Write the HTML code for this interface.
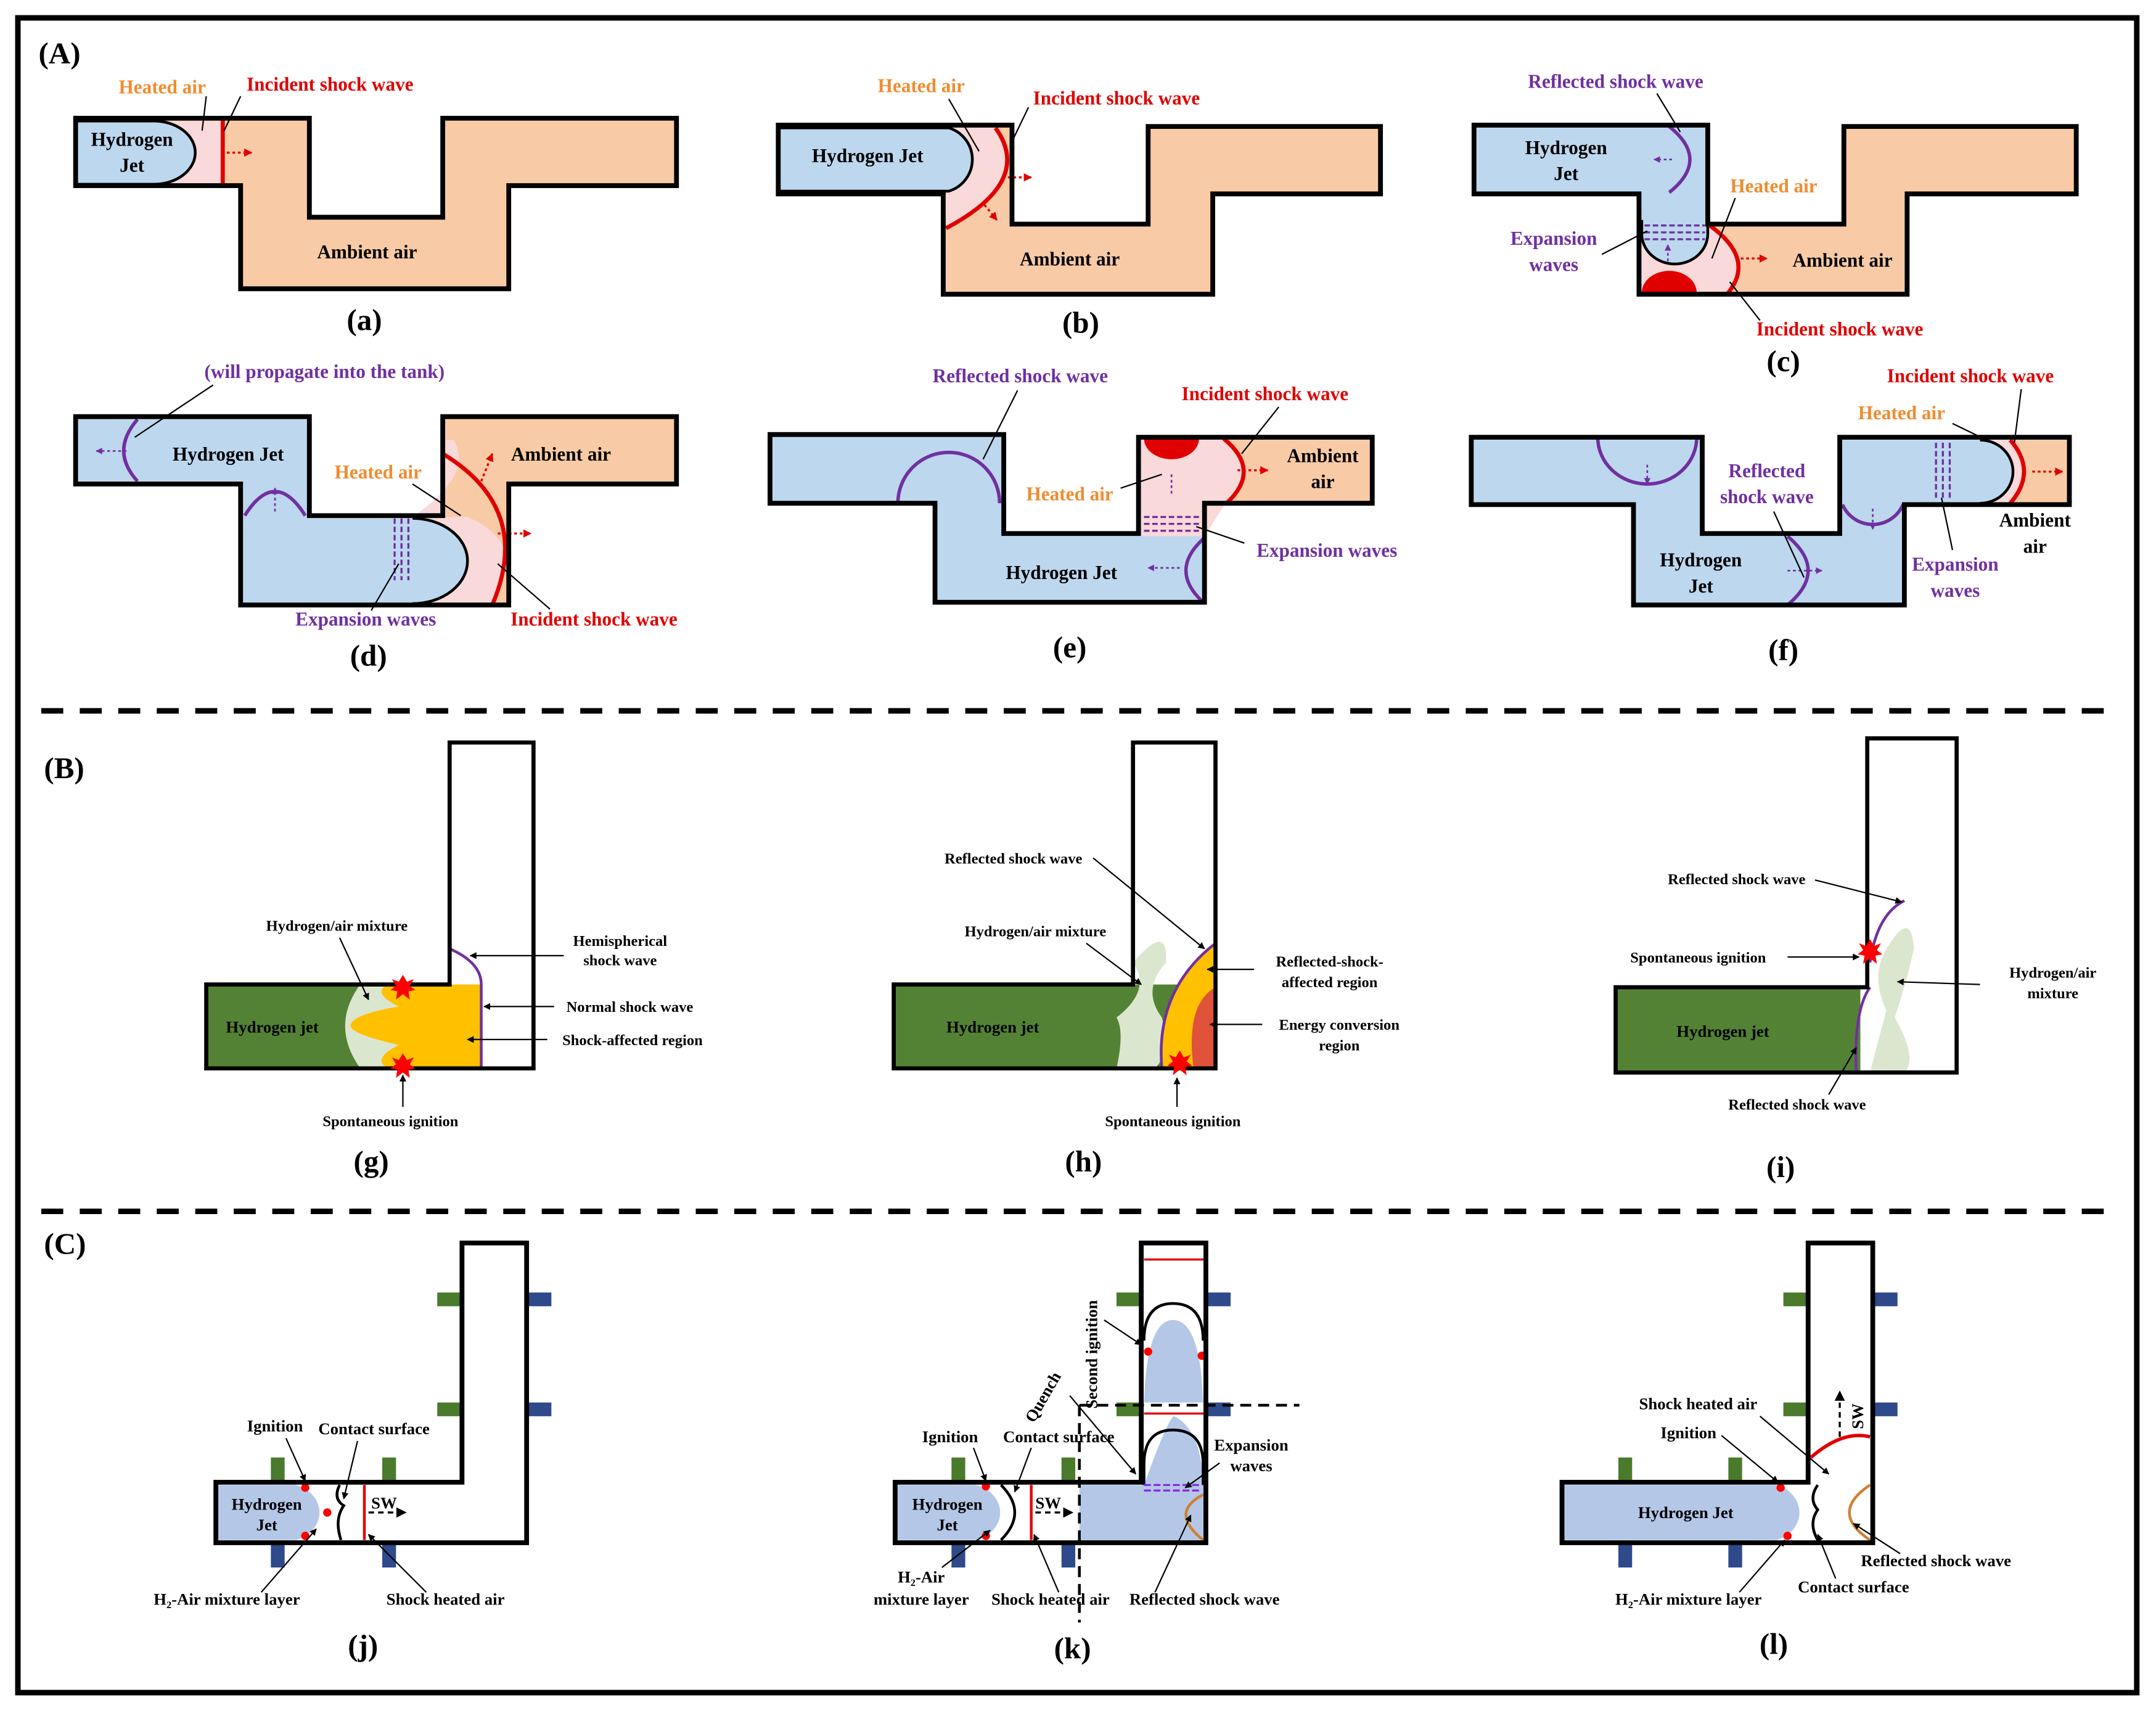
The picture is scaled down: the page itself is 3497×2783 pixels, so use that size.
<!DOCTYPE html>
<html><head><meta charset="utf-8"><style>
html,body{margin:0;padding:0;background:#fff;}
svg{display:block;}
text{font-family:"Liberation Serif",serif;font-weight:bold;}
</style></head><body>
<svg width="3497" height="2783" viewBox="0 0 1568 1248" preserveAspectRatio="none" xmlns="http://www.w3.org/2000/svg">
<defs>
<marker id="ah" viewBox="0 0 10 10" refX="9" refY="5" markerWidth="5" markerHeight="5" orient="auto"><path d="M0,0L10,5L0,10Z" fill="#000"/></marker>
<marker id="ar" viewBox="0 0 10 10" refX="9" refY="5" markerWidth="4" markerHeight="4" orient="auto"><path d="M0,0L10,5L0,10Z" fill="#e00000"/></marker>
<marker id="ap" viewBox="0 0 10 10" refX="9" refY="5" markerWidth="4" markerHeight="4" orient="auto"><path d="M0,0L10,5L0,10Z" fill="#7030a0"/></marker>
</defs>
<rect x="0" y="0" width="1568" height="1248" fill="#fff"/>
<rect x="13" y="13" width="1541" height="1218" fill="none" stroke="#000" stroke-width="4"/>
<line x1="30" y1="517" x2="1540" y2="517" stroke="#000" stroke-width="4" stroke-dasharray="16,12"/>
<line x1="30" y1="881" x2="1540" y2="881" stroke="#000" stroke-width="4" stroke-dasharray="16,12"/>
<text x="28" y="46" font-size="22">(A)</text>
<text x="32" y="566" font-size="22">(B)</text>
<text x="32" y="912" font-size="22">(C)</text>

<!-- (a) -->
<polygon points="55,86 225,86 225,158 322,158 322,86 492,86 492,135 370,135 370,210 175,210 175,135 55,135" fill="#f8cba6"/>
<rect x="110" y="88" width="52" height="46" fill="#f9d9d9"/>
<path d="M55,88 H112 A30,23 0 0 1 112,134 H55 Z" fill="#bdd7ee" stroke="#000" stroke-width="2"/>
<line x1="162" y1="87" x2="162" y2="134" stroke="#e00000" stroke-width="3"/>
<line x1="165" y1="111" x2="183" y2="111" stroke="#e00000" stroke-width="1.5" stroke-dasharray="2,2" marker-end="url(#ar)"/>
<polygon points="55,86 225,86 225,158 322,158 322,86 492,86 492,135 370,135 370,210 175,210 175,135 55,135" fill="none" stroke="#000" stroke-width="3.5"/>
<text x="96" y="106" font-size="14" text-anchor="middle">Hydrogen</text>
<text x="96" y="125" font-size="14" text-anchor="middle">Jet</text>
<text x="118" y="68" font-size="14" text-anchor="middle" fill="#f08c30">Heated air</text>
<text x="240" y="66" font-size="14" text-anchor="middle" fill="#e00000">Incident shock wave</text>
<line x1="150" y1="70" x2="147" y2="95" stroke="#000" stroke-width="1"/>
<line x1="175" y1="70" x2="163" y2="95" stroke="#000" stroke-width="1"/>
<text x="267" y="188" font-size="14" text-anchor="middle">Ambient air</text>
<text x="265" y="240" font-size="22" text-anchor="middle">(a)</text>

<!-- (b) -->
<polygon points="566,91 736,91 736,163 835,163 835,92 1004,92 1004,141 882,141 882,214 686,214 686,141 566,141" fill="#f8cba6"/>
<path d="M686,93 H726 Q750,130 688,166 Z" fill="#f9d9d9"/>
<path d="M566,93 H690 A24,24 0 0 1 690,139 H566 Z" fill="#bdd7ee" stroke="#000" stroke-width="2"/>
<path d="M724,93 Q752,132 688,166" fill="none" stroke="#e00000" stroke-width="3"/>
<line x1="733" y1="129" x2="750" y2="129" stroke="#e00000" stroke-width="1.5" stroke-dasharray="2,2" marker-end="url(#ar)"/>
<line x1="716" y1="149" x2="725" y2="160" stroke="#e00000" stroke-width="1.5" stroke-dasharray="2,2" marker-end="url(#ar)"/>
<polygon points="566,91 736,91 736,163 835,163 835,92 1004,92 1004,141 882,141 882,214 686,214 686,141 566,141" fill="none" stroke="#000" stroke-width="3.5"/>
<text x="631" y="118" font-size="14" text-anchor="middle">Hydrogen Jet</text>
<text x="670" y="67" font-size="14" text-anchor="middle" fill="#f08c30">Heated air</text>
<line x1="690" y1="72" x2="712" y2="110" stroke="#000" stroke-width="1"/>
<text x="812" y="76" font-size="14" text-anchor="middle" fill="#e00000">Incident shock wave</text>
<line x1="748" y1="78" x2="735" y2="105" stroke="#000" stroke-width="1"/>
<text x="778" y="193" font-size="14" text-anchor="middle">Ambient air</text>
<text x="786" y="242" font-size="22" text-anchor="middle">(b)</text>

<!-- (c) -->
<polygon points="1072,91 1242,91 1242,163 1341,163 1341,92 1510,92 1510,141 1387,141 1387,214 1192,214 1192,141 1072,141" fill="#f8cba6"/>
<polygon points="1072,91 1242,91 1242,214 1192,214 1192,141 1072,141" fill="#bdd7ee"/>
<path d="M1194,160 H1242 Q1276,188 1256,213 H1194 Z" fill="#f9d9d9"/>
<path d="M1194,141 V170 A24,22 0 0 0 1242,170 V141 Z" fill="#bdd7ee"/>
<path d="M1194,160 V170 A24,22 0 0 0 1242,170 V160" fill="none" stroke="#000" stroke-width="2"/>
<path d="M1242,163 Q1278,188 1256,214" fill="none" stroke="#e00000" stroke-width="3"/>
<path d="M1194,213 A20,16 0 0 1 1234,213 Z" fill="#e00000"/>
<path d="M1214,92 Q1244,116 1214,140" fill="none" stroke="#7030a0" stroke-width="2.5"/>
<line x1="1216" y1="116" x2="1203" y2="116" stroke="#7030a0" stroke-width="1.2" stroke-dasharray="2,2" marker-end="url(#ap)"/>
<g stroke="#7030a0" stroke-width="1.5" stroke-dasharray="4,2"><line x1="1196" y1="164" x2="1240" y2="164"/><line x1="1196" y1="169" x2="1240" y2="169"/><line x1="1196" y1="174" x2="1240" y2="174"/></g>
<line x1="1213" y1="190" x2="1213" y2="178" stroke="#7030a0" stroke-width="1.2" stroke-dasharray="2,2" marker-end="url(#ap)"/>
<line x1="1266" y1="188" x2="1285" y2="188" stroke="#e00000" stroke-width="1.5" stroke-dasharray="2,2" marker-end="url(#ar)"/>
<polygon points="1072,91 1242,91 1242,163 1341,163 1341,92 1510,92 1510,141 1387,141 1387,214 1192,214 1192,141 1072,141" fill="none" stroke="#000" stroke-width="3.5"/>
<text x="1175" y="64" font-size="14" text-anchor="middle" fill="#7030a0">Reflected shock wave</text>
<line x1="1205" y1="68" x2="1222" y2="96" stroke="#000" stroke-width="1"/>
<text x="1139" y="112" font-size="14" text-anchor="middle">Hydrogen</text>
<text x="1139" y="131" font-size="14" text-anchor="middle">Jet</text>
<text x="1290" y="140" font-size="14" text-anchor="middle" fill="#f08c30">Heated air</text>
<line x1="1262" y1="144" x2="1245" y2="188" stroke="#000" stroke-width="1"/>
<text x="1130" y="178" font-size="14" text-anchor="middle" fill="#7030a0">Expansion</text>
<text x="1130" y="197" font-size="14" text-anchor="middle" fill="#7030a0">waves</text>
<line x1="1165" y1="185" x2="1198" y2="168" stroke="#000" stroke-width="1"/>
<text x="1340" y="194" font-size="14" text-anchor="middle">Ambient air</text>
<text x="1338" y="244" font-size="14" text-anchor="middle" fill="#e00000">Incident shock wave</text>
<line x1="1280" y1="233" x2="1258" y2="205" stroke="#000" stroke-width="1"/>
<text x="1297" y="270" font-size="22" text-anchor="middle">(c)</text>

<!-- (d) -->
<polygon points="55,303 225,303 225,375 322,375 322,303 492,303 492,352 370,352 370,440 175,440 175,352 55,352" fill="#f8cba6"/>
<polygon points="55,303 225,303 225,375 300,375 300,440 175,440 175,352 55,352" fill="#f9d9d9"/>
<path d="M300,376 Q345,345 330,320 L322,320 L322,376 Z M296,376 H340 Q385,395 358,439 H296 Z" fill="#f9d9d9"/>
<path d="M322,330 Q388,370 358,440" fill="none" stroke="#e00000" stroke-width="3"/>
<path d="M55,305 H225 V377 H300 A40,31 0 0 1 300,439 H177 V350 H55 Z" fill="#bdd7ee"/>
<path d="M300,377 A40,31 0 0 1 300,439" fill="none" stroke="#000" stroke-width="2"/>
<path d="M100,305 Q80,328 100,350" fill="none" stroke="#7030a0" stroke-width="2.5"/>
<line x1="92" y1="328" x2="70" y2="328" stroke="#7030a0" stroke-width="1.2" stroke-dasharray="2,2" marker-end="url(#ap)"/>
<path d="M178,375 Q200,340 222,375" fill="none" stroke="#7030a0" stroke-width="2.5"/>
<line x1="200" y1="372" x2="200" y2="355" stroke="#7030a0" stroke-width="1.2" stroke-dasharray="2,2" marker-end="url(#ap)"/>
<g stroke="#7030a0" stroke-width="1.5" stroke-dasharray="4,2"><line x1="287" y1="377" x2="287" y2="422"/><line x1="292" y1="377" x2="292" y2="422"/><line x1="297" y1="377" x2="297" y2="422"/></g>
<line x1="350" y1="350" x2="358" y2="330" stroke="#e00000" stroke-width="1.5" stroke-dasharray="2,2" marker-end="url(#ar)"/>
<line x1="362" y1="388" x2="386" y2="388" stroke="#e00000" stroke-width="1.5" stroke-dasharray="2,2" marker-end="url(#ar)"/>
<polygon points="55,303 225,303 225,375 322,375 322,303 492,303 492,352 370,352 370,440 175,440 175,352 55,352" fill="none" stroke="#000" stroke-width="3.5"/>
<text x="236" y="275" font-size="14" text-anchor="middle" fill="#7030a0">(will propagate into the tank)</text>
<line x1="155" y1="280" x2="98" y2="318" stroke="#000" stroke-width="1"/>
<text x="166" y="335" font-size="14" text-anchor="middle">Hydrogen Jet</text>
<text x="275" y="348" font-size="14" text-anchor="middle" fill="#f08c30">Heated air</text>
<line x1="300" y1="352" x2="335" y2="375" stroke="#000" stroke-width="1"/>
<text x="408" y="335" font-size="14" text-anchor="middle">Ambient air</text>
<text x="266" y="455" font-size="14" text-anchor="middle" fill="#7030a0">Expansion waves</text>
<line x1="270" y1="444" x2="290" y2="410" stroke="#000" stroke-width="1"/>
<text x="432" y="455" font-size="14" text-anchor="middle" fill="#e00000">Incident shock wave</text>
<line x1="400" y1="443" x2="362" y2="410" stroke="#000" stroke-width="1"/>
<text x="268" y="484" font-size="22" text-anchor="middle">(d)</text>

<!-- (e) -->
<polygon points="560,316 730,316 730,388 828,388 828,318 998,318 998,366 876,366 876,438 680,438 680,366 560,366" fill="#bdd7ee"/>
<polygon points="880,318 998,318 998,366 880,366" fill="#f8cba6"/>
<path d="M830,318 H890 Q918,342 890,368 L876,390 H830 Z" fill="#f9d9d9"/>
<path d="M890,319 Q918,342 892,366" fill="none" stroke="#e00000" stroke-width="3"/>
<path d="M832,319 A20,15 0 0 0 872,319 Z" fill="#e00000"/>
<line x1="852" y1="345" x2="852" y2="360" stroke="#7030a0" stroke-width="1.2" stroke-dasharray="2,2"/>
<g stroke="#7030a0" stroke-width="1.5" stroke-dasharray="4,2"><line x1="832" y1="376" x2="874" y2="376"/><line x1="832" y1="381" x2="874" y2="381"/><line x1="832" y1="386" x2="874" y2="386"/></g>
<line x1="900" y1="342" x2="922" y2="342" stroke="#e00000" stroke-width="1.5" stroke-dasharray="2,2" marker-end="url(#ar)"/>
<path d="M653,366 A37,37 0 0 1 727,366" fill="none" stroke="#7030a0" stroke-width="2.5"/>
<path d="M875,392 Q850,415 875,438" fill="none" stroke="#7030a0" stroke-width="2.5"/>
<line x1="858" y1="413" x2="835" y2="413" stroke="#7030a0" stroke-width="1.2" stroke-dasharray="2,2" marker-end="url(#ap)"/>
<polygon points="560,316 730,316 730,388 828,388 828,318 998,318 998,366 876,366 876,438 680,438 680,366 560,366" fill="none" stroke="#000" stroke-width="3.5"/>
<text x="742" y="278" font-size="14" text-anchor="middle" fill="#7030a0">Reflected shock wave</text>
<line x1="740" y1="284" x2="715" y2="334" stroke="#000" stroke-width="1"/>
<text x="920" y="291" font-size="14" text-anchor="middle" fill="#e00000">Incident shock wave</text>
<line x1="930" y1="296" x2="903" y2="330" stroke="#000" stroke-width="1"/>
<text x="962" y="336" font-size="14" text-anchor="middle">Ambient</text>
<text x="962" y="355" font-size="14" text-anchor="middle">air</text>
<text x="778" y="364" font-size="14" text-anchor="middle" fill="#f08c30">Heated air</text>
<line x1="815" y1="355" x2="845" y2="345" stroke="#000" stroke-width="1"/>
<text x="965" y="405" font-size="14" text-anchor="middle" fill="#7030a0">Expansion waves</text>
<line x1="905" y1="395" x2="870" y2="383" stroke="#000" stroke-width="1"/>
<text x="772" y="421" font-size="14" text-anchor="middle">Hydrogen Jet</text>
<text x="778" y="478" font-size="22" text-anchor="middle">(e)</text>

<!-- (f) -->
<polygon points="1070,318 1238,318 1238,388 1338,388 1338,318 1505,318 1505,367 1385,367 1385,440 1188,440 1188,367 1070,367" fill="#bdd7ee"/>
<polygon points="1462,320 1505,320 1505,366 1462,366" fill="#f8cba6"/>
<path d="M1420,320 H1462 Q1482,343 1462,366 H1420 Z" fill="#f9d9d9"/>
<path d="M1340,320 H1440 A24,23 0 0 1 1440,366 H1340 Z" fill="#bdd7ee"/>
<path d="M1440,320 A24,23 0 0 1 1440,366" fill="none" stroke="#000" stroke-width="2"/>
<path d="M1462,320 Q1482,343 1462,366" fill="none" stroke="#e00000" stroke-width="3"/>
<line x1="1478" y1="343" x2="1500" y2="343" stroke="#e00000" stroke-width="1.5" stroke-dasharray="2,2" marker-end="url(#ar)"/>
<g stroke="#7030a0" stroke-width="1.5" stroke-dasharray="4,2"><line x1="1408" y1="322" x2="1408" y2="364"/><line x1="1413" y1="322" x2="1413" y2="364"/><line x1="1418" y1="322" x2="1418" y2="364"/></g>
<path d="M1162,318 A36,34 0 0 0 1234,318" fill="none" stroke="#7030a0" stroke-width="2.5"/>
<line x1="1198" y1="338" x2="1198" y2="352" stroke="#7030a0" stroke-width="1.2" stroke-dasharray="2,2" marker-end="url(#ap)"/>
<path d="M1340,367 A24,24 0 0 0 1384,367" fill="none" stroke="#7030a0" stroke-width="2.5"/>
<line x1="1362" y1="370" x2="1362" y2="385" stroke="#7030a0" stroke-width="1.2" stroke-dasharray="2,2" marker-end="url(#ap)"/>
<path d="M1300,390 Q1330,415 1300,440" fill="none" stroke="#7030a0" stroke-width="2.5"/>
<line x1="1300" y1="415" x2="1325" y2="415" stroke="#7030a0" stroke-width="1.2" stroke-dasharray="2,2" marker-end="url(#ap)"/>
<polygon points="1070,318 1238,318 1238,388 1338,388 1338,318 1505,318 1505,367 1385,367 1385,440 1188,440 1188,367 1070,367" fill="none" stroke="#000" stroke-width="3.5"/>
<text x="1433" y="278" font-size="14" text-anchor="middle" fill="#e00000">Incident shock wave</text>
<line x1="1470" y1="283" x2="1465" y2="322" stroke="#000" stroke-width="1"/>
<text x="1383" y="305" font-size="14" text-anchor="middle" fill="#f08c30">Heated air</text>
<line x1="1420" y1="308" x2="1455" y2="325" stroke="#000" stroke-width="1"/>
<text x="1285" y="347" font-size="14" text-anchor="middle" fill="#7030a0">Reflected</text>
<text x="1285" y="366" font-size="14" text-anchor="middle" fill="#7030a0">shock wave</text>
<line x1="1290" y1="372" x2="1312" y2="420" stroke="#000" stroke-width="1"/>
<text x="1480" y="383" font-size="14" text-anchor="middle">Ambient</text>
<text x="1480" y="402" font-size="14" text-anchor="middle">air</text>
<text x="1422" y="415" font-size="14" text-anchor="middle" fill="#7030a0">Expansion</text>
<text x="1422" y="434" font-size="14" text-anchor="middle" fill="#7030a0">waves</text>
<line x1="1420" y1="400" x2="1412" y2="362" stroke="#000" stroke-width="1"/>
<text x="1237" y="412" font-size="14" text-anchor="middle">Hydrogen</text>
<text x="1237" y="431" font-size="14" text-anchor="middle">Jet</text>
<text x="1297" y="480" font-size="22" text-anchor="middle">(f)</text>

<!-- (g) -->
<rect x="150" y="716" width="200" height="61" fill="#548235"/>
<path d="M262,716 H350 V777 H262 Q240,746 262,716 Z" fill="#dbe6cf"/>
<path d="M282,716 H350 V777 H282 Q270,770 290,760 Q255,752 255,746 Q255,738 290,732 Q270,722 282,716 Z" fill="#ffc000"/>
<path d="M327,690 Q350,700 350,716 V777" fill="none" stroke="#7030a0" stroke-width="2"/>
<polygon points="150,716 327,716 327,540 388,540 388,777 150,777" fill="none" stroke="#000" stroke-width="3"/>
<g fill="#ff0000"><polygon points="293,709 296,714 301,712 298,717 302,720 297,721 298,727 293,723 288,727 289,721 284,720 288,717 285,712 290,714"/><polygon points="293,766 296,771 301,769 298,774 302,777 297,778 298,784 293,780 288,784 289,778 284,777 288,774 285,769 290,771"/></g>
<text x="198" y="751" font-size="12" text-anchor="middle">Hydrogen jet</text>
<text x="245" y="677" font-size="11" text-anchor="middle">Hydrogen/air mixture</text>
<line x1="247" y1="682" x2="268" y2="727" stroke="#000" stroke-width="1" marker-end="url(#ah)"/>
<text x="451" y="688" font-size="11" text-anchor="middle">Hemispherical</text>
<text x="451" y="702" font-size="11" text-anchor="middle">shock wave</text>
<line x1="410" y1="695" x2="342" y2="695" stroke="#000" stroke-width="1" marker-end="url(#ah)"/>
<text x="458" y="736" font-size="11" text-anchor="middle">Normal shock wave</text>
<line x1="403" y1="732" x2="352" y2="732" stroke="#000" stroke-width="1" marker-end="url(#ah)"/>
<text x="460" y="760" font-size="11" text-anchor="middle">Shock-affected region</text>
<line x1="398" y1="756" x2="340" y2="756" stroke="#000" stroke-width="1" marker-end="url(#ah)"/>
<line x1="293" y1="805" x2="293" y2="782" stroke="#000" stroke-width="1" marker-end="url(#ah)"/>
<text x="284" y="819" font-size="11" text-anchor="middle">Spontaneous ignition</text>
<text x="270" y="852" font-size="22" text-anchor="middle">(g)</text>

<!-- (h) -->
<rect x="650" y="716" width="234" height="61" fill="#548235"/>
<path d="M824,700 Q850,670 848,700 Q830,720 845,740 Q852,765 840,777 H812 Q818,750 812,740 Q838,720 824,700 Z" fill="#dbe6cf"/>
<path d="M845,777 Q840,720 884,686 V777 Z" fill="#ffc000"/>
<path d="M868,777 Q862,730 884,718 V777 Z" fill="#e0523a"/>
<path d="M845,777 Q840,720 884,686" fill="none" stroke="#7030a0" stroke-width="2"/>
<polygon points="650,716 824,716 824,540 884,540 884,777 650,777" fill="none" stroke="#000" stroke-width="3"/>
<polygon fill="#ff0000" points="858,764 861,769 866,767 863,772 867,775 862,776 863,782 858,778 853,782 854,776 849,775 853,772 850,767 855,769"/>
<text x="722" y="751" font-size="12" text-anchor="middle">Hydrogen jet</text>
<text x="737" y="628" font-size="11" text-anchor="middle">Reflected shock wave</text>
<line x1="795" y1="624" x2="876" y2="690" stroke="#000" stroke-width="1" marker-end="url(#ah)"/>
<text x="753" y="681" font-size="11" text-anchor="middle">Hydrogen/air mixture</text>
<line x1="790" y1="686" x2="830" y2="716" stroke="#000" stroke-width="1" marker-end="url(#ah)"/>
<text x="967" y="703" font-size="11" text-anchor="middle">Reflected-shock-</text>
<text x="967" y="718" font-size="11" text-anchor="middle">affected region</text>
<line x1="912" y1="705" x2="878" y2="705" stroke="#000" stroke-width="1" marker-end="url(#ah)"/>
<text x="974" y="749" font-size="11" text-anchor="middle">Energy conversion</text>
<text x="974" y="764" font-size="11" text-anchor="middle">region</text>
<line x1="918" y1="745" x2="880" y2="745" stroke="#000" stroke-width="1" marker-end="url(#ah)"/>
<line x1="856" y1="805" x2="856" y2="784" stroke="#000" stroke-width="1" marker-end="url(#ah)"/>
<text x="853" y="819" font-size="11" text-anchor="middle">Spontaneous ignition</text>
<text x="788" y="852" font-size="22" text-anchor="middle">(h)</text>

<!-- (i) -->
<rect x="1175" y="718" width="178" height="62" fill="#548235"/>
<path d="M1372,690 Q1390,660 1392,690 Q1385,720 1378,740 Q1395,770 1385,780 H1360 Q1365,760 1372,735 Q1360,710 1372,690 Z" fill="#dbe6cf"/>
<path d="M1350,780 Q1348,735 1360,718" fill="none" stroke="#7030a0" stroke-width="2"/>
<path d="M1360,700 Q1365,665 1385,655" fill="none" stroke="#7030a0" stroke-width="2"/>
<polygon points="1175,718 1358,718 1358,537 1423,537 1423,780 1175,780" fill="none" stroke="#000" stroke-width="3"/>
<polygon fill="#ff0000" points="1360,683 1363,688 1368,686 1365,691 1369,694 1364,695 1365,701 1360,697 1355,701 1356,695 1351,694 1355,691 1352,686 1357,688"/>
<text x="1253" y="754" font-size="12" text-anchor="middle">Hydrogen jet</text>
<text x="1263" y="643" font-size="11" text-anchor="middle">Reflected shock wave</text>
<line x1="1320" y1="640" x2="1383" y2="656" stroke="#000" stroke-width="1" marker-end="url(#ah)"/>
<text x="1235" y="700" font-size="11" text-anchor="middle">Spontaneous ignition</text>
<line x1="1300" y1="696" x2="1352" y2="696" stroke="#000" stroke-width="1" marker-end="url(#ah)"/>
<text x="1493" y="711" font-size="11" text-anchor="middle">Hydrogen/air</text>
<text x="1493" y="726" font-size="11" text-anchor="middle">mixture</text>
<line x1="1440" y1="716" x2="1380" y2="714" stroke="#000" stroke-width="1" marker-end="url(#ah)"/>
<text x="1307" y="807" font-size="11" text-anchor="middle">Reflected shock wave</text>
<line x1="1330" y1="796" x2="1350" y2="762" stroke="#000" stroke-width="1" marker-end="url(#ah)"/>
<text x="1295" y="856" font-size="22" text-anchor="middle">(i)</text>

<!-- (j) -->
<g fill="#4a7a2c"><rect x="318" y="940" width="18" height="10"/><rect x="318" y="1020" width="18" height="10"/><rect x="197" y="1060" width="10" height="18"/><rect x="278" y="1060" width="10" height="18"/></g>
<g fill="#2e4a8a"><rect x="383" y="940" width="18" height="10"/><rect x="383" y="1020" width="18" height="10"/><rect x="197" y="1122" width="10" height="18"/><rect x="278" y="1122" width="10" height="18"/></g>
<path d="M158,1080 H215 A25,21 0 0 1 215,1120 H158 Z" fill="#b4c7e7"/>
<path d="M247,1080 Q242,1090 250,1095 Q243,1105 248,1120" fill="none" stroke="#000" stroke-width="2"/>
<line x1="265" y1="1080" x2="265" y2="1120" stroke="#e00000" stroke-width="2"/>
<line x1="268" y1="1100" x2="295" y2="1100" stroke="#000" stroke-width="1.5" stroke-dasharray="4,3" marker-end="url(#ah)"/>
<text x="270" y="1097" font-size="12">SW</text>
<g fill="#ff0000"><circle cx="222" cy="1082" r="3"/><circle cx="238" cy="1100" r="3"/><circle cx="222" cy="1117" r="3"/></g>
<polygon points="157,1078 336,1078 336,904 383,904 383,1122 157,1122" fill="none" stroke="#000" stroke-width="3.5"/>
<text x="194" y="1098" font-size="12" text-anchor="middle">Hydrogen</text>
<text x="194" y="1113" font-size="12" text-anchor="middle">Jet</text>
<text x="200" y="1041" font-size="12" text-anchor="middle">Ignition</text>
<line x1="208" y1="1046" x2="222" y2="1077" stroke="#000" stroke-width="1" marker-end="url(#ah)"/>
<text x="272" y="1043" font-size="12" text-anchor="middle">Contact surface</text>
<line x1="260" y1="1048" x2="250" y2="1090" stroke="#000" stroke-width="1" marker-end="url(#ah)"/>
<text x="165" y="1167" font-size="12" text-anchor="middle">H₂-Air mixture layer</text>
<line x1="190" y1="1158" x2="230" y2="1112" stroke="#000" stroke-width="1" marker-end="url(#ah)"/>
<text x="324" y="1167" font-size="12" text-anchor="middle">Shock heated air</text>
<line x1="310" y1="1158" x2="268" y2="1116" stroke="#000" stroke-width="1" marker-end="url(#ah)"/>
<text x="264" y="1204" font-size="22" text-anchor="middle">(j)</text>

<!-- (k) -->
<g fill="#4a7a2c"><rect x="812" y="940" width="18" height="10"/><rect x="812" y="1020" width="18" height="10"/><rect x="692" y="1060" width="10" height="18"/><rect x="772" y="1060" width="10" height="18"/></g>
<g fill="#2e4a8a"><rect x="877" y="940" width="18" height="10"/><rect x="877" y="1020" width="18" height="10"/><rect x="692" y="1122" width="10" height="18"/><rect x="772" y="1122" width="10" height="18"/></g>
<path d="M652,1080 H710 A25,21 0 0 1 710,1120 H652 Z" fill="#b4c7e7"/>
<rect x="785" y="1080" width="91" height="41" fill="#b4c7e7"/>
<path d="M832,1080 V1080 Q850,1030 854,1030 Q874,1040 875,1080 Z" fill="#b4c7e7"/>
<path d="M832,1020 Q834,960 853,960 Q873,960 875,1020 Z" fill="#b4c7e7"/>
<path d="M832,1080 V1065 Q832,1040 853,1040 Q875,1040 875,1065 V1080" fill="none" stroke="#000" stroke-width="2"/>
<path d="M832,975 Q832,948 853,948 Q875,948 875,975" fill="none" stroke="#000" stroke-width="2"/>
<line x1="832" y1="916" x2="876" y2="916" stroke="#e00000" stroke-width="1.5"/>
<line x1="832" y1="1028" x2="876" y2="1028" stroke="#e00000" stroke-width="1.5"/>
<g fill="#ff0000"><circle cx="835" cy="983" r="3"/><circle cx="874" cy="986" r="3"/><circle cx="717" cy="1081" r="3"/><circle cx="717" cy="1117" r="3"/></g>
<path d="M728,1080 Q748,1100 728,1120" fill="none" stroke="#000" stroke-width="2"/>
<line x1="750" y1="1080" x2="750" y2="1120" stroke="#e00000" stroke-width="2"/>
<line x1="753" y1="1100" x2="780" y2="1100" stroke="#000" stroke-width="1.5" stroke-dasharray="4,3" marker-end="url(#ah)"/>
<text x="753" y="1097" font-size="12">SW</text>
<g stroke="#8a2be2" stroke-width="1.5" stroke-dasharray="5,2"><line x1="832" y1="1080" x2="872" y2="1080"/><line x1="832" y1="1084" x2="872" y2="1084"/></g>
<path d="M875,1087 Q850,1100 875,1120" fill="none" stroke="#d08030" stroke-width="2"/>
<line x1="785" y1="1022" x2="785" y2="1180" stroke="#000" stroke-width="2" stroke-dasharray="8,5"/>
<line x1="785" y1="1022" x2="945" y2="1022" stroke="#000" stroke-width="2" stroke-dasharray="8,5"/>
<polygon points="651,1078 830,1078 830,904 877,904 877,1122 651,1122" fill="none" stroke="#000" stroke-width="3.5"/>
<text x="689" y="1098" font-size="12" text-anchor="middle">Hydrogen</text>
<text x="689" y="1113" font-size="12" text-anchor="middle">Jet</text>
<text x="691" y="1049" font-size="12" text-anchor="middle">Ignition</text>
<line x1="708" y1="1053" x2="717" y2="1077" stroke="#000" stroke-width="1" marker-end="url(#ah)"/>
<text x="770" y="1049" font-size="12" text-anchor="middle">Contact surface</text>
<line x1="750" y1="1053" x2="738" y2="1085" stroke="#000" stroke-width="1" marker-end="url(#ah)"/>
<text x="0" y="0" font-size="12" transform="translate(798,985) rotate(-90)" text-anchor="middle">Second  ignition</text>
<line x1="803" y1="960" x2="830" y2="978" stroke="#000" stroke-width="1" marker-end="url(#ah)"/>
<text x="0" y="0" font-size="12" transform="translate(762,1018) rotate(-60)" text-anchor="middle">Quench</text>
<line x1="778" y1="1015" x2="826" y2="1072" stroke="#000" stroke-width="1" marker-end="url(#ah)"/>
<text x="910" y="1055" font-size="12" text-anchor="middle">Expansion</text>
<text x="910" y="1070" font-size="12" text-anchor="middle">waves</text>
<line x1="887" y1="1064" x2="862" y2="1082" stroke="#000" stroke-width="1" marker-end="url(#ah)"/>
<text x="670" y="1151" font-size="12" text-anchor="middle">H₂-Air</text>
<text x="670" y="1167" font-size="12" text-anchor="middle">mixture layer</text>
<line x1="685" y1="1140" x2="720" y2="1113" stroke="#000" stroke-width="1" marker-end="url(#ah)"/>
<text x="764" y="1167" font-size="12" text-anchor="middle">Shock heated air</text>
<line x1="770" y1="1158" x2="752" y2="1116" stroke="#000" stroke-width="1" marker-end="url(#ah)"/>
<text x="876" y="1167" font-size="12" text-anchor="middle">Reflected shock wave</text>
<line x1="840" y1="1158" x2="866" y2="1102" stroke="#000" stroke-width="1" marker-end="url(#ah)"/>
<text x="780" y="1206" font-size="22" text-anchor="middle">(k)</text>

<!-- (l) -->
<g fill="#4a7a2c"><rect x="1297" y="940" width="18" height="10"/><rect x="1297" y="1020" width="18" height="10"/><rect x="1177" y="1060" width="10" height="18"/><rect x="1257" y="1060" width="10" height="18"/></g>
<g fill="#2e4a8a"><rect x="1362" y="940" width="18" height="10"/><rect x="1362" y="1020" width="18" height="10"/><rect x="1177" y="1122" width="10" height="18"/><rect x="1257" y="1122" width="10" height="18"/></g>
<path d="M1137,1080 H1292 A24,21 0 0 1 1292,1120 H1137 Z" fill="#b4c7e7"/>
<path d="M1322,1080 Q1315,1090 1322,1098 Q1315,1108 1322,1120" fill="none" stroke="#000" stroke-width="2"/>
<path d="M1317,1060 Q1340,1040 1360,1045" fill="none" stroke="#e00000" stroke-width="2.5"/>
<path d="M1360,1080 Q1330,1100 1360,1120" fill="none" stroke="#d08030" stroke-width="2"/>
<g fill="#ff0000"><circle cx="1295" cy="1082" r="3"/><circle cx="1300" cy="1117" r="3"/></g>
<line x1="1338" y1="1045" x2="1338" y2="1012" stroke="#000" stroke-width="1.5" stroke-dasharray="4,3" marker-end="url(#ah)"/>
<text x="0" y="0" font-size="12" transform="translate(1355,1030) rotate(-90)" text-anchor="middle">SW</text>
<polygon points="1136,1078 1315,1078 1315,904 1362,904 1362,1122 1136,1122" fill="none" stroke="#000" stroke-width="3.5"/>
<text x="1226" y="1104" font-size="12" text-anchor="middle">Hydrogen Jet</text>
<text x="1235" y="1025" font-size="12" text-anchor="middle">Shock heated air</text>
<line x1="1280" y1="1030" x2="1330" y2="1072" stroke="#000" stroke-width="1" marker-end="url(#ah)"/>
<text x="1228" y="1046" font-size="12" text-anchor="middle">Ignition</text>
<line x1="1252" y1="1044" x2="1293" y2="1078" stroke="#000" stroke-width="1" marker-end="url(#ah)"/>
<text x="1408" y="1139" font-size="12" text-anchor="middle">Reflected shock wave</text>
<line x1="1382" y1="1130" x2="1348" y2="1108" stroke="#000" stroke-width="1" marker-end="url(#ah)"/>
<text x="1348" y="1158" font-size="12" text-anchor="middle">Contact surface</text>
<line x1="1335" y1="1148" x2="1322" y2="1116" stroke="#000" stroke-width="1" marker-end="url(#ah)"/>
<text x="1228" y="1167" font-size="12" text-anchor="middle">H₂-Air mixture layer</text>
<line x1="1265" y1="1158" x2="1298" y2="1120" stroke="#000" stroke-width="1" marker-end="url(#ah)"/>
<text x="1290" y="1203" font-size="22" text-anchor="middle">(l)</text>
</svg>
</body></html>
